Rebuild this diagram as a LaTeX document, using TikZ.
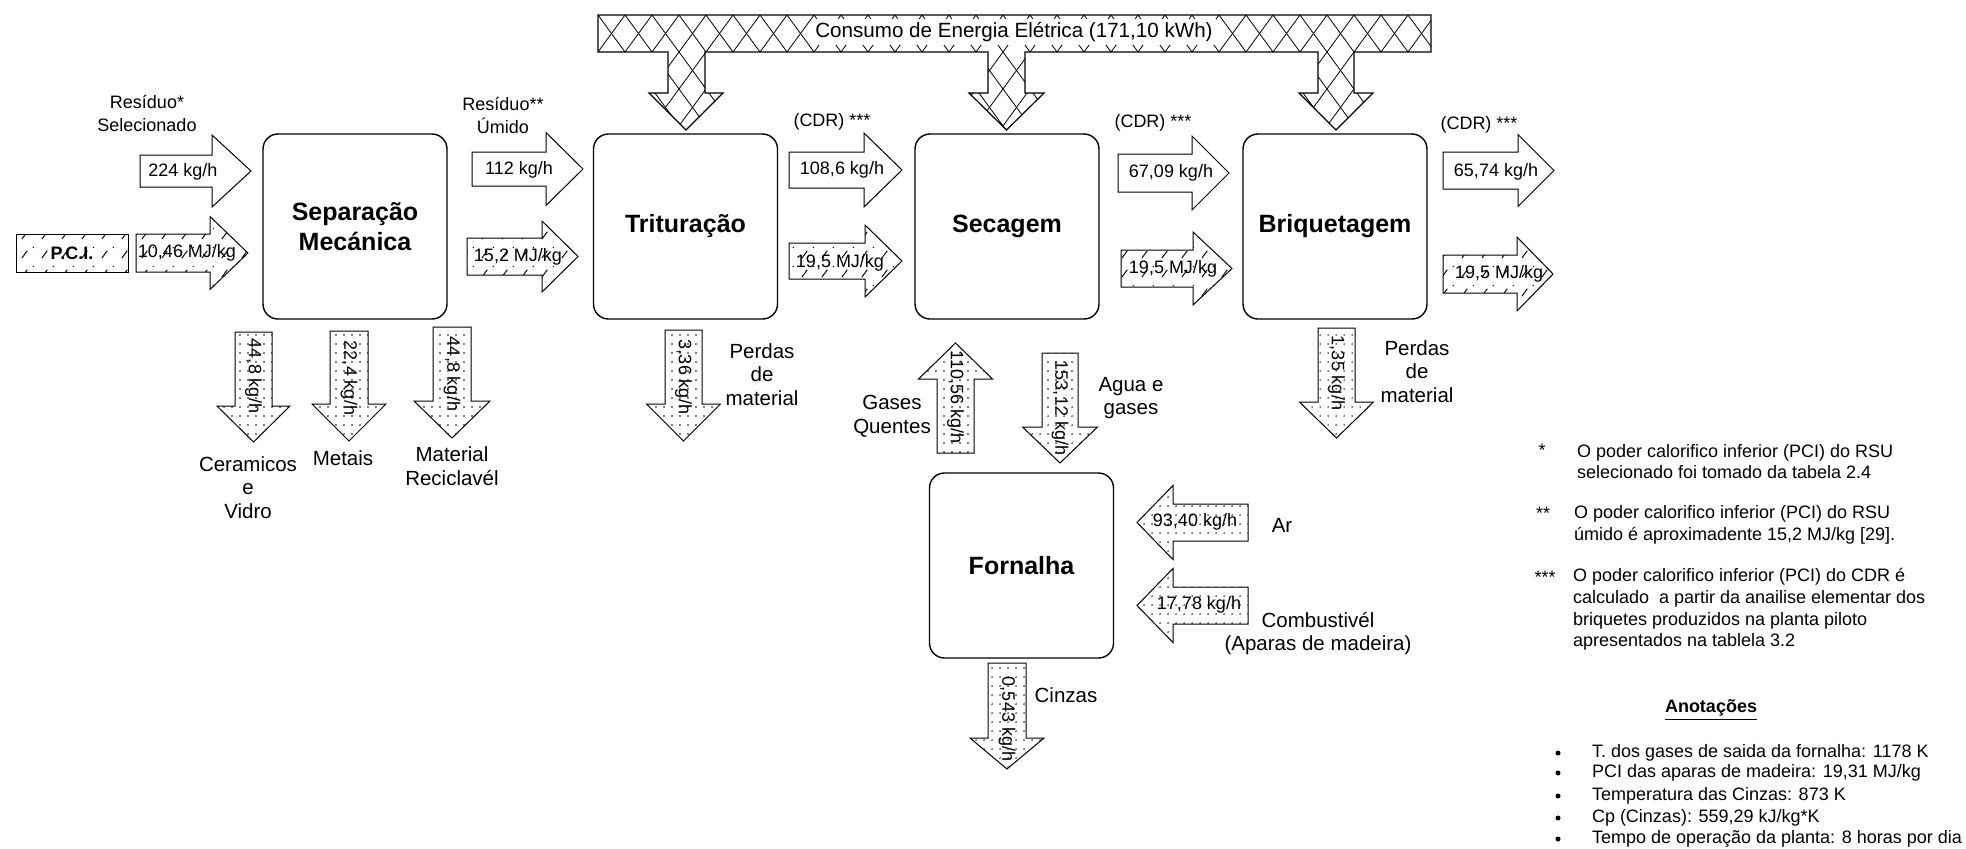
\documentclass[tikz,border=0pt]{standalone}
\usepackage{fontspec}
\setmainfont{Liberation Sans}
\usetikzlibrary{patterns}

\pgfdeclarepatternformonly{sdots}{\pgfqpoint{-1pt}{-1pt}}{\pgfqpoint{1pt}{1pt}}{\pgfqpoint{4pt}{4.5pt}}{%
  \pgfpathcircle{\pgfqpoint{0pt}{0pt}}{0.38pt}\pgfusepath{fill}}
\pgfdeclarepatternformonly{sdash}{\pgfqpoint{0pt}{0pt}}{\pgfqpoint{10pt}{9.5pt}}{\pgfqpoint{10pt}{9.5pt}}{%
  \pgfsetlinewidth{0.5pt}%
  \pgfpathmoveto{\pgfqpoint{1pt}{1pt}}\pgfpathlineto{\pgfqpoint{3.8pt}{4.8pt}}\pgfusepath{stroke}%
  \pgfpathcircle{\pgfqpoint{7pt}{6.5pt}}{0.4pt}\pgfusepath{fill}}

% horizontal block arrow: style, x start, x head, x tip, y centre, body half, head half
\newcommand\rblk[7]{\draw[#1] (#2,#5-#6) -- (#3,#5-#6) -- (#3,#5-#7) -- (#4,#5) -- (#3,#5+#7) -- (#3,#5+#6) -- (#2,#5+#6) -- cycle;}
% vertical block arrow: style, x centre, y start, y head, y tip, body half, head half
\newcommand\vblk[7]{\draw[#1] (#2-#6,#3) -- (#2-#6,#4) -- (#2-#7,#4) -- (#2,#5) -- (#2+#7,#4) -- (#2+#6,#4) -- (#2+#6,#3) -- cycle;}

\begin{document}
\begin{tikzpicture}[x=0.5pt,y=-0.5pt,
  every node/.style={inner sep=0pt,outer sep=0pt},
  procbox/.style={draw,line width=0.7pt,rounded corners=7.5pt,minimum width=92pt,minimum height=92.5pt,align=center,font=\fontsize{12.5}{15}\selectfont\bfseries},
  blkbase/.style={draw,line width=0.5pt,line join=miter},
  arrplain/.style={blkbase,fill=white},
  arrdots/.style={blkbase,pattern=sdots},
  arrhatch/.style={blkbase,pattern=sdash},
  atxt/.style={font=\fontsize{9}{11}\selectfont},
  vtxt/.style={atxt,rotate=-90},
  toptxt/.style={font=\fontsize{9}{11.5}\selectfont,align=center},
  lbl/.style={font=\fontsize{10.25}{11.9}\selectfont,align=center},
  note/.style={font=\fontsize{9}{10.9}\selectfont,align=left,anchor=west},
  star/.style={font=\fontsize{9}{11}\selectfont,anchor=base},
  bulletdot/.style={circle,fill=black,minimum size=2.5pt},
  hatchline/.style={line width=0.4pt}
]
\useasboundingbox (0,0) rectangle (1966,848);

% ---------- energy bar ----------
\begin{scope}
\clip (598,15) -- (1431,15) -- (1431,52) -- (1354,52) -- (1354,93) -- (1373,93) -- (1336,130) -- (1299,93) -- (1318,93) -- (1318,52) -- (1025,52) -- (1025,93) -- (1044,93) -- (1006.5,130) -- (969,93) -- (988,93) -- (988,52) -- (705,52) -- (705,93) -- (723,93) -- (686,130) -- (649,93) -- (668,93) -- (668,52) -- (598,52) -- cycle;
\foreach \i in {-4,...,36} {
  \draw[hatchline] ({598+27*\i},15) -- ++(84,115);
  \draw[hatchline] ({598+27*\i},15) -- ++(-84,115);
}
\end{scope}
\node[fill=white,inner sep=1.5pt,font=\fontsize{10.3}{12}\selectfont] (energia) at (1014,32) {Consumo de Energia Elétrica (171,10 kWh)};
\draw[line width=0.6pt,line join=miter] (598,15) -- (1431,15) -- (1431,52) -- (1354,52) -- (1354,93) -- (1373,93) -- (1336,130) -- (1299,93) -- (1318,93) -- (1318,52) -- (1025,52) -- (1025,93) -- (1044,93) -- (1006.5,130) -- (969,93) -- (988,93) -- (988,52) -- (705,52) -- (705,93) -- (723,93) -- (686,130) -- (649,93) -- (668,93) -- (668,52) -- (598,52) -- cycle;

% ---------- process boxes ----------
\node[procbox] (sep) at (355,226.5) {Separação\\Mecánica};
\node[procbox] (trit) at (685.5,226.5) {Trituração};
\node[procbox] (sec) at (1007,226.5) {Secagem};
\node[procbox] (briq) at (1335,226.5) {Briquetagem};
\node[procbox] (forn) at (1021.5,565.5) {Fornalha};

% ---------- horizontal arrows ----------
\node[draw,line width=0.5pt,pattern=sdash,minimum width=56pt,minimum height=19pt,font=\fontsize{9}{11}\selectfont\bfseries] (pci) at (72,253) {P.C.I.};
\rblk{arrplain}{140}{212}{251}{171}{16}{36}
\rblk{arrhatch}{136}{210}{248}{253}{19}{36.5}
\rblk{arrplain}{472}{546}{583}{169}{17}{36.5}
\rblk{arrhatch}{467}{542}{578}{256.5}{18.5}{35.5}
\rblk{arrplain}{789}{864}{902}{170}{18}{37}
\rblk{arrhatch}{789}{865}{902}{261}{18}{36}
\rblk{arrplain}{1118}{1192}{1229}{173}{19}{37}
\rblk{arrhatch}{1121}{1193}{1232}{268.5}{18.5}{36.5}
\rblk{arrplain}{1443}{1518}{1554}{170.5}{18.5}{36}
\rblk{arrhatch}{1443}{1517}{1553}{274}{19}{37}
\rblk{arrdots}{1248}{1173}{1137}{522.5}{18.5}{37}
\rblk{arrdots}{1248}{1173}{1137}{605.5}{18.5}{37}

\node[atxt] (t224) at (183,172) {224 kg/h};
\node[atxt] (t1046) at (187,253) {10,46 MJ/kg};
\node[atxt] (t112) at (519,170) {112 kg/h};
\node[atxt] (t152) at (518,257) {15,2 MJ/kg};
\node[atxt] (t1086) at (842,170) {108,6 kg/h};
\node[atxt] (t195a) at (840,263) {19,5 MJ/kg};
\node[atxt] (t6709) at (1171,173) {67,09 kg/h};
\node[atxt] (t195b) at (1173,269) {19,5 MJ/kg};
\node[atxt] (t6574) at (1496,172) {65,74 kg/h};
\node[atxt] (t195c) at (1499,274) {19,5 MJ/kg};
\node[atxt] (t9340) at (1195,522) {93,40 kg/h};
\node[atxt] (t1778) at (1199,605) {17,78 kg/h};

% ---------- vertical arrows ----------
\vblk{arrdots}{253.5}{332}{406}{442}{18.5}{36.5}
\vblk{arrdots}{349}{331}{404}{441}{19}{37}
\vblk{arrdots}{452}{327}{401}{438}{19}{38}
\vblk{arrdots}{683.5}{330}{404}{441}{18.5}{37}
\vblk{arrdots}{1336.5}{328}{402}{438}{18.5}{37}
\vblk{arrdots}{1060}{353}{427}{463}{18}{37.5}
\vblk{arrdots}{1007}{663}{738}{769}{19}{37}
\vblk{arrdots}{955.5}{453}{379}{343}{18.5}{37}

\node[vtxt] (v448a) at (253.5,376) {44,8 kg/h};
\node[vtxt] (v224) at (349,378) {22,4 kg/h};
\node[vtxt] (v448b) at (452,374) {44,8 kg/h};
\node[vtxt] (v336) at (683.5,377) {3,36 kg/h};
\node[vtxt] (v135) at (1336.5,373) {1,35 kg/h};
\node[vtxt] (v15312) at (1060,408) {153,12 kg/h};
\node[vtxt] (v0543) at (1007,719) {0,543 kg/h};
\node[vtxt] (v11056) at (955.5,397) {110,56 kg/h};

% ---------- labels ----------
\node[toptxt] (res1) at (147,113) {Resíduo*\\Selecionado};
\node[toptxt] (res2) at (503,115.5) {Resíduo**\\Úmido};
\node[atxt] (cdr1) at (832,122) {(CDR) ***};
\node[atxt] (cdr2) at (1153,123) {(CDR) ***};
\node[atxt] (cdr3) at (1479,125) {(CDR) ***};

\node[lbl] (cer) at (248,487.5) {Ceramicos\\e\\Vidro};
\node[lbl] (met) at (343,458) {Metais};
\node[lbl] (mat) at (452,466) {Material\\Reciclavél};
\node[lbl] (perd1) at (762,374.5) {Perdas\\de\\material};
\node[lbl] (perd2) at (1417,371.5) {Perdas\\de\\material};
\node[lbl] (gases) at (892,416.5) {Gases\\Quentes};
\node[lbl] (agua) at (1131,398) {Agua e\\gases};
\node[lbl] (ar) at (1282,525) {Ar};
\node[lbl] (comb) at (1318,633.5) {Combustivél\\(Aparas de madeira)};
\node[lbl] (cinz) at (1066,695) {Cinzas};

% ---------- notes ----------
\node[star] (s1) at (1542,456.5) {*};
\node[note] (n1) at (1577,461.5) {O poder calorifico inferior (PCI) do RSU\\selecionado foi tomado da tabela 2.4};
\node[star] (s2) at (1543,519.5) {**};
\node[note] (n2) at (1574,525) {O poder calorifico inferior (PCI) do RSU\\úmido é aproximadente 15,2 MJ/kg [29].};
\node[star] (s3) at (1545,583.5) {***};
\node[note] (n3) at (1573,609.5) {O poder calorifico inferior (PCI) do CDR é\\calculado\ \ a partir da anailise elementar dos\\briquetes produzidos na planta piloto\\apresentados na tablela 3.2};

\node[font=\fontsize{9}{11}\selectfont\bfseries] (anot) at (1711,710) {\underline{Anotações}};
\foreach \yy/\tt [count=\k] in {753/{T. dos gases de saida da fornalha: 1178 K},773/{PCI das aparas de madeira: 19,31 MJ/kg},796/{Temperatura das Cinzas: 873 K},818/{Cp (Cinzas): 559,29 kJ/kg*K},839/{Tempo de operação da planta: 8 horas por dia}} {
  \node[bulletdot] (b\k) at (1558,\yy) {};
  \node[note] (a\k) at (1592,\yy) {\tt};
}
\end{tikzpicture}
\end{document}
